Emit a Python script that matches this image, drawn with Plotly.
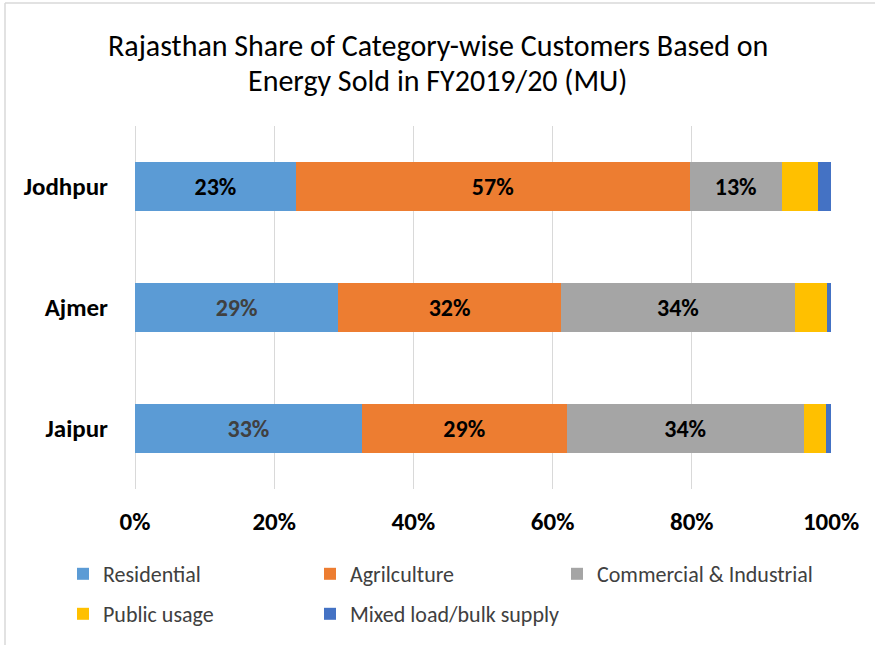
import plotly.graph_objects as go

categories = ["Jaipur", "Ajmer", "Jodhpur"]
series_names = ["Residential", "Agrilculture", "Commercial & Industrial", "Public usage", "Mixed load/bulk supply"]
residential = [32.6, 29.2, 23.1]
agriculture = [29.4, 32.0, 56.6]
commercial = [34.1, 33.6, 13.2]
public_usage = [3.2, 4.6, 5.2]
mixed_load = [0.7, 0.6, 1.9]
colors = ["#5B9BD5", "#ED7D31", "#A5A5A5", "#FFC000", "#4472C4"]
x_ticks = [0, 20, 40, 60, 80, 100]
title_lines = ["Rajasthan Share of Category-wise Customers Based on", "Energy Sold in FY2019/20 (MU)"]

W, H = 875, 645
FONT = "Carlito, Lato, sans-serif"
all_values = [residential, agriculture, commercial, public_usage, mixed_load]
label_colors = [["#404040", "#404040", "#000000"], ["#000000"] * 3, ["#000000"] * 3, None, None]
legend_ids = ["legend", "legend2", "legend3", "legend4", "legend5"]
# legend placement (container px): column left edges, row centres
legend_pos = [(63, 574), (310, 574), (557, 574), (63, 614), (310, 614)]

fig = go.Figure()
for i, (name, vals) in enumerate(zip(series_names, all_values)):
    show_text = i < 3
    fig.add_trace(go.Bar(
        y=categories, x=vals, name=name, orientation="h",
        marker=dict(color=colors[i], line=dict(width=0)),
        text=[f"{round(v)}%" for v in vals] if show_text else None,
        textposition="inside" if show_text else "none",
        insidetextanchor="middle",
        textangle=0,
        constraintext="none",
        textfont=dict(family=FONT, size=24, color=label_colors[i] if show_text else "#000", weight="bold"),
        hoverinfo="skip",
        showlegend=True,
        legend=legend_ids[i],
    ))

legends = {}
for lid, (lx, ly) in zip(legend_ids, legend_pos):
    legends[lid] = dict(
        orientation="h", visible=True,
        x=lx / W, xref="container", xanchor="left",
        y=1 - ly / H, yref="container", yanchor="middle",
        font=dict(family=FONT, size=22, color="#404040"),
        itemwidth=30, bgcolor="rgba(0,0,0,0)",
    )

annotations = []
for text, cy in zip(title_lines, [45, 80]):
    annotations.append(dict(
        text=text, xref="paper", yref="paper", showarrow=False,
        xanchor="center", yanchor="middle",
        x=(W / 2 - 135) / 696, y=(H - cy - 156) / 363,
        font=dict(family=FONT, size=30, color="#000000"),
    ))

fig.update_layout(
    width=W, height=H,
    showlegend=True,
    barmode="stack", bargap=0.6,
    paper_bgcolor="white", plot_bgcolor="white",
    margin=dict(l=135, r=44, t=126, b=156, autoexpand=False),
    font=dict(family=FONT),
    annotations=annotations,
    xaxis=dict(
        range=[0, 100], tickvals=x_ticks, ticktext=[f"{t}%" for t in x_ticks],
        showgrid=True, gridcolor="#D9D9D9", gridwidth=1,
        zeroline=True, zerolinecolor="#D9D9D9", zerolinewidth=1,
        showline=False, automargin=False,
        ticks="outside", ticklen=10, tickcolor="rgba(0,0,0,0)",
        tickfont=dict(family=FONT, size=25, color="#000000", weight="bold"),
        fixedrange=True,
    ),
    yaxis=dict(
        categoryorder="array", categoryarray=categories,
        showgrid=False, showline=False, zeroline=False, automargin=False,
        ticks="outside", ticklen=21, tickcolor="rgba(0,0,0,0)",
        tickfont=dict(family=FONT, size=25, color="#000000", weight="bold"),
        fixedrange=True,
    ),
    shapes=[
        dict(type="line", xref="paper", yref="paper",
             x0=-130 / 696, x1=-130 / 696, y0=-160 / 363, y1=1 + 123 / 363,
             line=dict(color="#D9D9D9", width=1.5)),
        dict(type="line", xref="paper", yref="paper",
             x0=-130 / 696, x1=1 + 44 / 696, y0=1 + 123 / 363, y1=1 + 123 / 363,
             line=dict(color="#D9D9D9", width=1.5)),
    ],
    **legends,
)

fig.write_html("out.html", config={"displayModeBar": False},
               post_script="document.body.style.margin='0';")
